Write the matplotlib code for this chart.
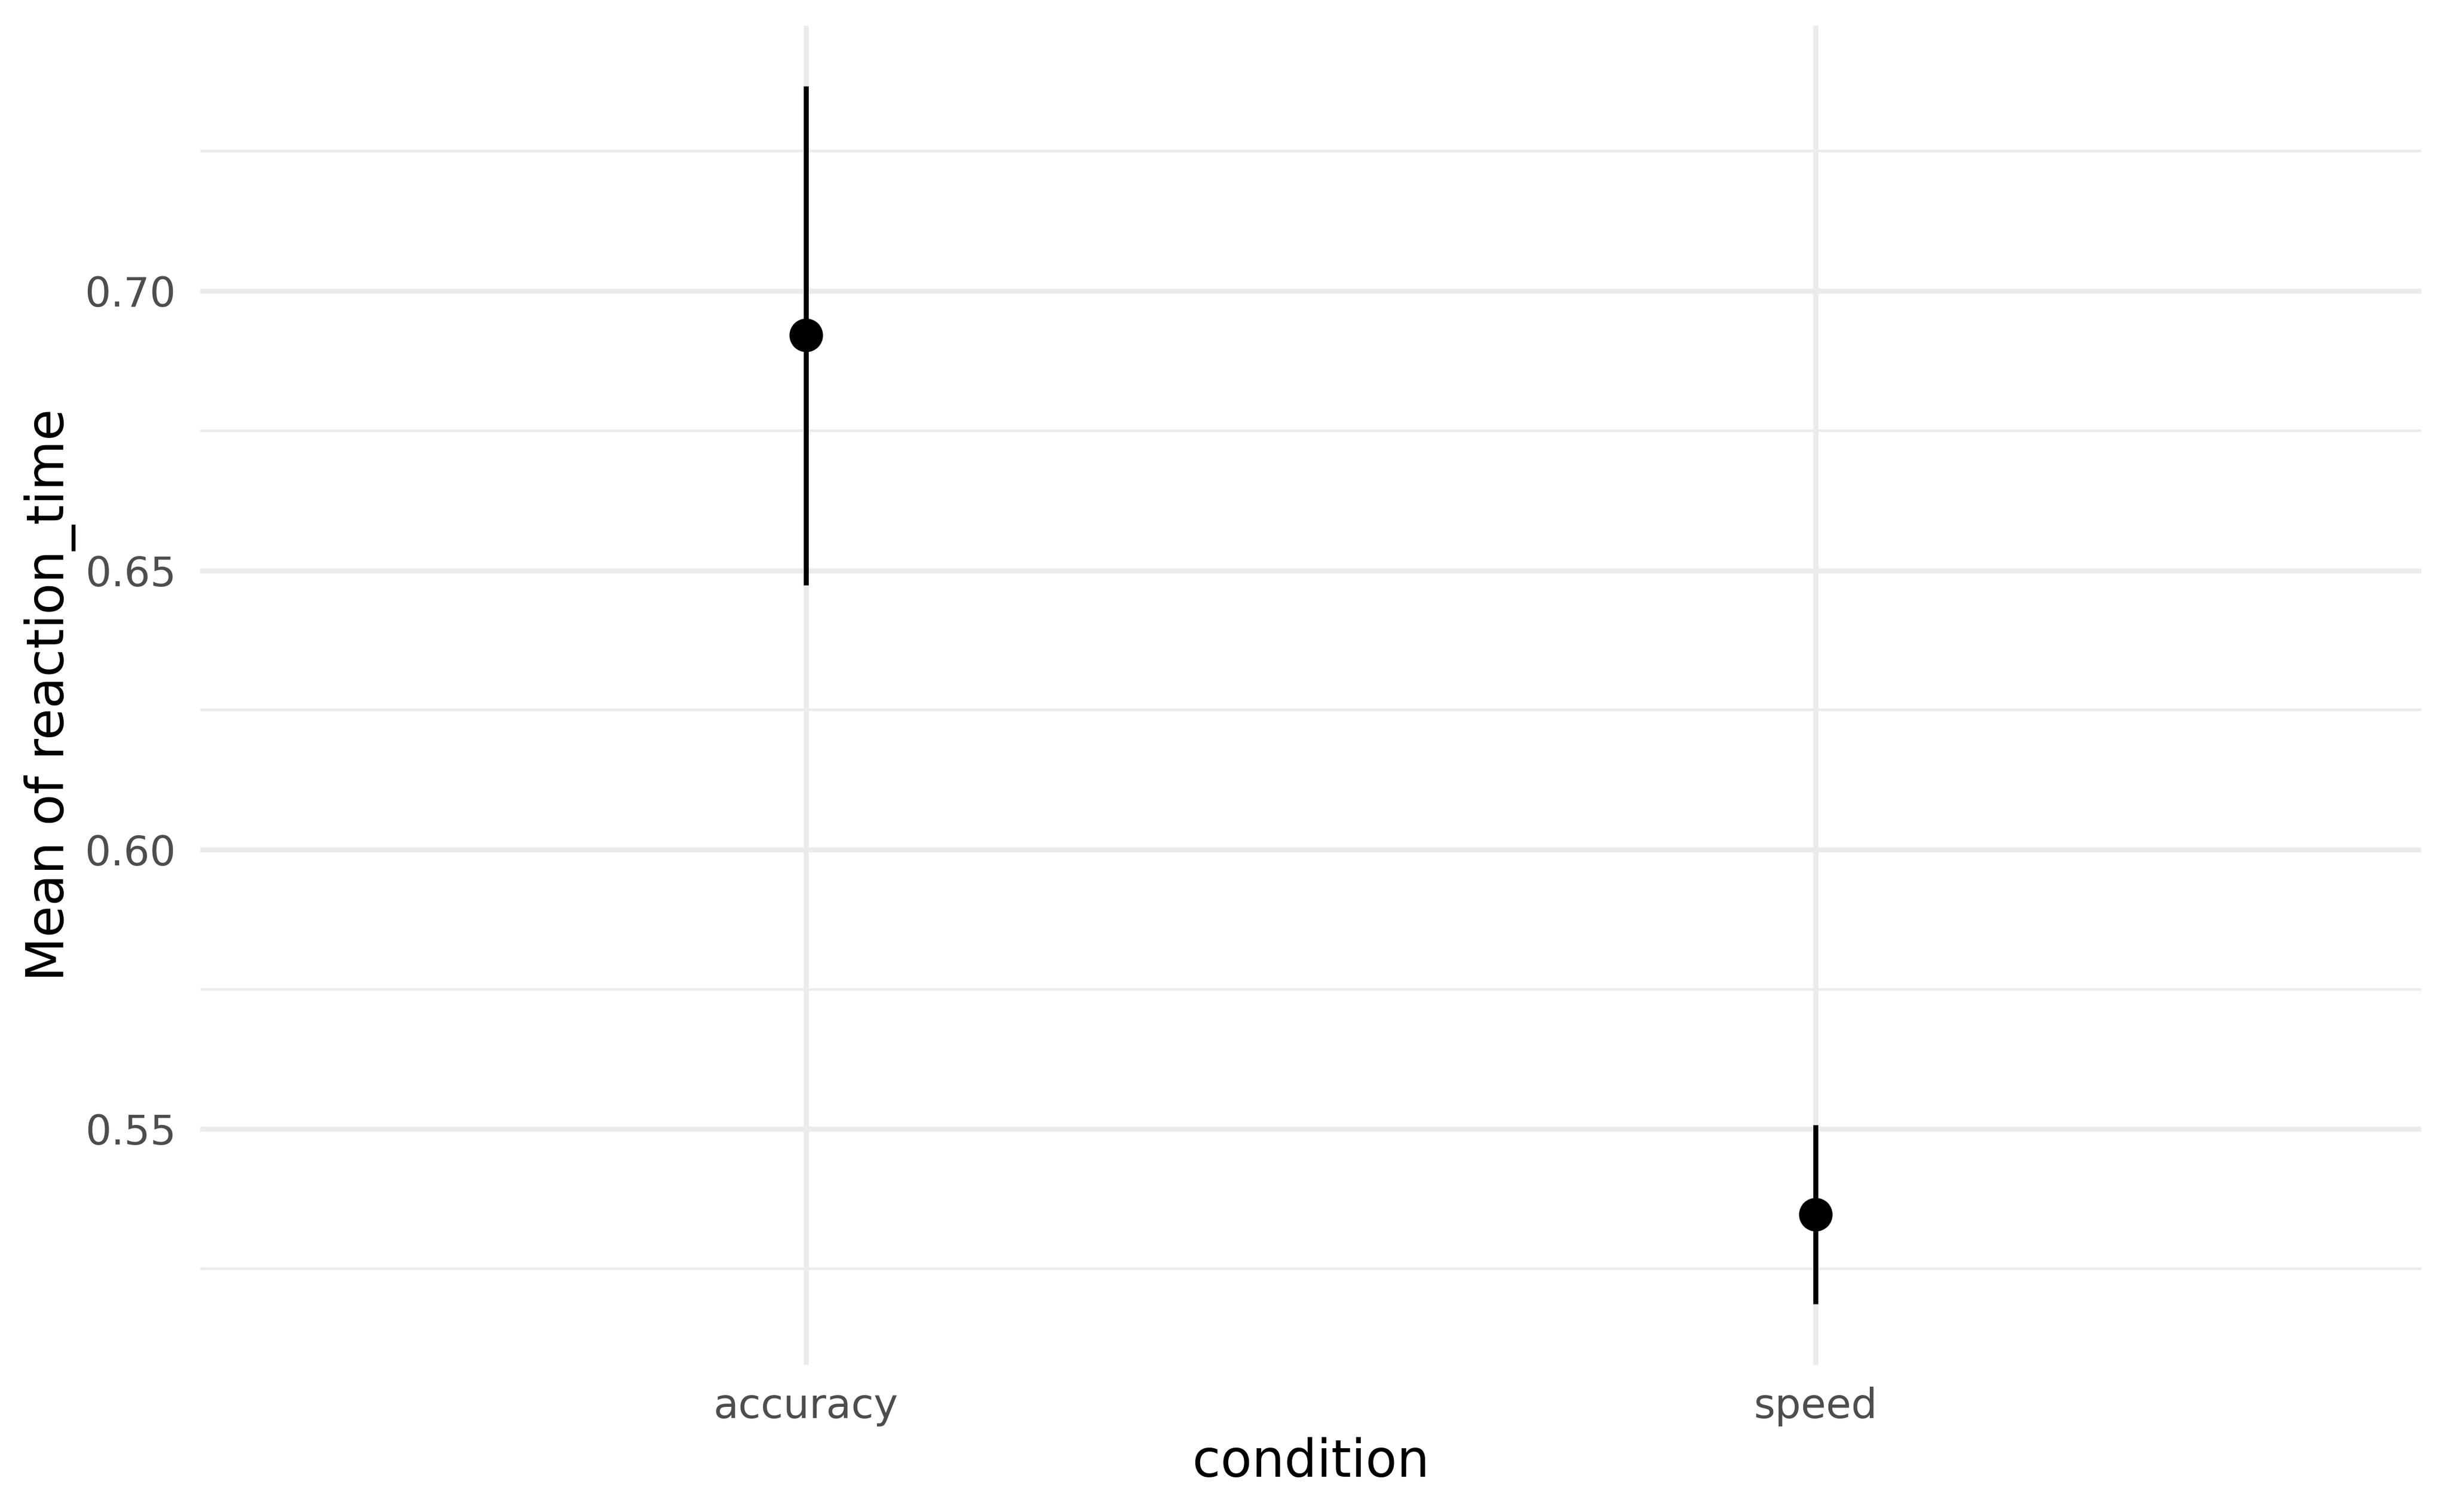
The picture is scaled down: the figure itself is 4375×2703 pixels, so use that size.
import matplotlib
matplotlib.use("Agg")
import matplotlib.pyplot as plt
from matplotlib.ticker import FixedLocator

# ---- data ----
conditions = ["accuracy", "speed"]
means = [0.6921, 0.5347]
lower = [0.6474, 0.5187]
upper = [0.7366, 0.5507]
y_major = [0.55, 0.60, 0.65, 0.70]
y_major_labels = ["0.55", "0.60", "0.65", "0.70"]
y_minor = [0.525, 0.575, 0.625, 0.675, 0.725]

plt.rcParams['font.family'] = ['DejaVu Sans']

W, H, DPI = 4375, 2703, 600
fig = plt.figure(figsize=(W / DPI, H / DPI), dpi=DPI, facecolor="white")
L, R, T, B = 358, 4329, 45.6, 2440
ax = fig.add_axes([L / W, 1 - B / H, (R - L) / W, (B - T) / H])
ax.set_facecolor("white")

xs = list(range(1, len(conditions) + 1))

grid_col = "#EBEBEB"
for y in y_minor:
    ax.axhline(y, color=grid_col, lw=0.53, zorder=0)
for y in y_major:
    ax.axhline(y, color=grid_col, lw=1.07, zorder=0)
for x in xs:
    ax.axvline(x, color=grid_col, lw=1.07, zorder=0)

ax.vlines(xs, lower, upper, color="black", lw=1.07, zorder=2)
ax.plot(xs, means, "o", color="black", markersize=7.2, markeredgewidth=0, zorder=3)

lo, hi = min(lower), max(upper)
pad = 0.05 * (hi - lo)
ax.set_ylim(lo - pad, hi + pad)
ax.set_xlim(0.4, len(conditions) + 0.6)

ax.set_xticks(xs)
ax.set_xticklabels(conditions)
ax.set_yticks(y_major)
ax.set_yticklabels(y_major_labels)

for s in ax.spines.values():
    s.set_visible(False)

ax.tick_params(axis="x", length=0, pad=4.7, labelsize=8.8, labelcolor="#4D4D4D")
ax.tick_params(axis="y", length=0, pad=5.2, labelsize=8.8, labelcolor="#4D4D4D")

ax.set_xlabel("condition", fontsize=11, color="black")
ax.set_ylabel("Mean of reaction_time", fontsize=11, color="black")
ax.xaxis.set_label_coords(0.5, (B - 2569) / (B - T))
ax.yaxis.set_label_coords((135.6 - L) / (R - L), 0.5)

fig.savefig("out.png", dpi=DPI, facecolor="white")
